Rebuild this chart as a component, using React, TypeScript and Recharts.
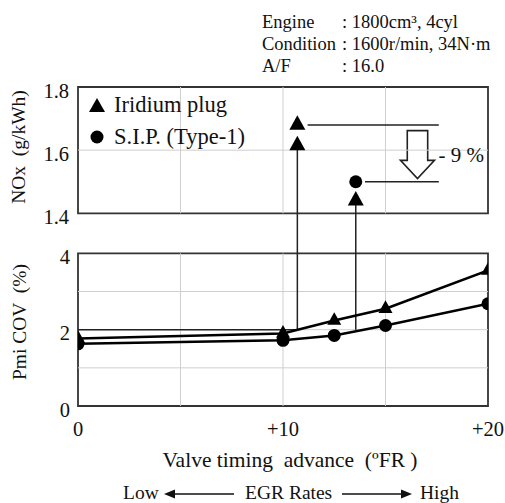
import React from "react";
import { ComposedChart, Line, Scatter, XAxis, YAxis, ReferenceLine, ReferenceArea, Legend } from "recharts";

const FONT = '"Liberation Serif", "DejaVu Serif", serif';

// bottom panel: Pmi COV vs valve timing advance
const timing = [0, 10, 12.5, 15, 20];
const covIridium = [1.77, 1.9, 2.24, 2.55, 3.55];
const covSip = [1.63, 1.72, 1.85, 2.11, 2.68];

// top panel: NOx points
const noxIridiumX = [10.7, 10.7, 13.55];
const noxIridium = [1.68, 1.615, 1.44];
const noxSipX = [13.55];
const noxSip = [1.5];

const covLimit = 2;
const noxBefore = 1.68;
const noxAfter = 1.5;

const xTicks = [0, 10, 20];
const xTickLabels = ["0", "+10", "+20"];
const noxTicks = [1.4, 1.6, 1.8];
const covTicks = [0, 2, 4];

const specLabels = ["Engine", "Condition", "A/F"];
const specValues = [": 1800cm\u00b3, 4cyl", ": 1600r/min, 34N\u00b7m", ": 16.0"];

// both y axes share the full plot height, each panel uses a part of it
const noxDomain = [0.79, 1.8];
const covDomain = [0, 8.36];
const noxToCov = (v: number) =>
  ((v - noxDomain[0]) / (noxDomain[1] - noxDomain[0])) * (covDomain[1] - covDomain[0]) + covDomain[0];

const covIridiumData = timing.map((x, i) => ({ x, y: covIridium[i] }));
const covSipData = timing.map((x, i) => ({ x, y: covSip[i] }));
const noxIridiumData = noxIridiumX.map((x, i) => ({ x, y: noxIridium[i] }));
const noxSipData = noxSipX.map((x, i) => ({ x, y: noxSip[i] }));
const connectors = [
  [{ x: noxIridiumX[1], y: covLimit }, { x: noxIridiumX[1], y: noxToCov(noxIridium[1]) }],
  [{ x: noxIridiumX[2], y: covLimit }, { x: noxIridiumX[2], y: noxToCov(noxIridium[2]) }],
];

const Tri = ({ cx, cy, w }: { cx: number; cy: number; w: number }) => {
  const h = w * 0.9;
  return <polygon points={`${cx},${cy - (2 * h) / 3} ${cx + w / 2},${cy + h / 3} ${cx - w / 2},${cy + h / 3}`} fill="#000" />;
};

const HollowArrow = (p: any) => {
  const { x, y, width, height } = p;
  const cx = x + width / 2;
  const sh = width * 0.3;
  const hy = y + height * 0.62;
  const pts = [
    [cx - sh, y], [cx + sh, y], [cx + sh, hy], [x + width, hy], [cx, y + height], [x, hy], [cx - sh, hy],
  ].map((q) => q.join(",")).join(" ");
  return <polygon points={pts} fill="#fff" stroke="#222" strokeWidth={1.6} />;
};

const LegendBox = (props: any) => {
  const items = (props.payload || []).filter((e: any) => e.type !== "none");
  return (
    <div style={{ fontFamily: FONT, fontSize: 22.5, color: "#111" }}>
      {items.map((e: any) => (
        <div key={e.value} style={{ display: "flex", alignItems: "center", height: 32, whiteSpace: "nowrap" }}>
          <svg width={18} height={18} style={{ marginRight: 8 }}>
            {e.type === "triangle" ? <polygon points="9,2 17,16 1,16" fill="#000" /> : <circle cx={9} cy={9} r={6.5} fill="#000" />}
          </svg>
          <span>{e.value}</span>
        </div>
      ))}
    </div>
  );
};

const grid = "#cfcfcf";
const frame = "#333";
const tickStyle = { fontSize: 20.5, fill: "#111", fontFamily: FONT, dy: 3.5 };

export default function App() {
  return (
    <div style={{ position: "absolute", left: 0, top: 0, width: 505, height: 503, background: "#fff", fontFamily: FONT, color: "#111" }}>
      {specLabels.map((l, i) => (
        <React.Fragment key={l}>
          <div style={{ position: "absolute", left: 262, top: 10.5 + i * 22, fontSize: 18.5, lineHeight: "22px" }}>{l}</div>
          <div style={{ position: "absolute", left: 342, top: 10.5 + i * 22, fontSize: 18.5, lineHeight: "22px", whiteSpace: "nowrap" }}>{specValues[i]}</div>
        </React.Fragment>
      ))}

      <ComposedChart width={505} height={503} margin={{ top: 87, right: 17, bottom: 67, left: 76 }}>
        <XAxis
          dataKey="x"
          type="number"
          domain={[0, 20]}
          allowDataOverflow
          ticks={xTicks}
          tickFormatter={(v: number) => xTickLabels[xTicks.indexOf(v)]}
          axisLine={false}
          tickLine={false}
          tickMargin={9}
          height={30}
          tick={{ fontSize: 20.5, fill: "#111", fontFamily: FONT }}
        />
        <YAxis yAxisId="nox" dataKey="y" type="number" domain={noxDomain} allowDataOverflow ticks={noxTicks}
          tickFormatter={(v: number) => v.toFixed(1)} width={1} axisLine={false} tickLine={false} tick={tickStyle} />
        <YAxis yAxisId="cov" dataKey="y" type="number" domain={covDomain} allowDataOverflow ticks={covTicks}
          width={1} axisLine={false} tickLine={false} tick={tickStyle} />

        {/* top panel grid and frame */}
        <ReferenceLine yAxisId="nox" y={1.6} stroke={grid} />
        {[5, 10, 15].map((g) => (
          <ReferenceLine key={"tn" + g} yAxisId="nox" segment={[{ x: g, y: 1.4 }, { x: g, y: 1.8 }]} stroke={grid} />
        ))}
        <ReferenceArea yAxisId="nox" x1={0} x2={20} y1={1.4} y2={1.8} fill="none" stroke={frame} strokeWidth={1.8} />

        {/* bottom panel grid and frame */}
        {[1, 2, 3].map((g) => (
          <ReferenceLine key={"hc" + g} yAxisId="cov" y={g} stroke={grid} />
        ))}
        {[5, 10, 15].map((g) => (
          <ReferenceLine key={"tc" + g} yAxisId="cov" segment={[{ x: g, y: 0 }, { x: g, y: 4 }]} stroke={grid} />
        ))}
        <ReferenceArea yAxisId="cov" x1={0} x2={20} y1={0} y2={4} fill="none" stroke={frame} strokeWidth={1.8} />

        {/* annotations */}
        <ReferenceLine yAxisId="cov" segment={[{ x: 0, y: covLimit }, { x: noxIridiumX[1], y: covLimit }]} stroke="#222" strokeWidth={1.5} />
        <ReferenceLine yAxisId="nox" segment={[{ x: 11.2, y: noxBefore }, { x: 17.6, y: noxBefore }]} stroke="#222" strokeWidth={1.5} />
        <ReferenceLine yAxisId="nox" segment={[{ x: 14.0, y: noxAfter }, { x: 17.6, y: noxAfter }]} stroke="#222" strokeWidth={1.5} />
        <ReferenceArea yAxisId="nox" x1={15.73} x2={17.39} y1={1.51} y2={1.662} shape={HollowArrow}
          label={{ value: "- 9 %", position: "right", offset: 4, fontSize: 21, fill: "#111", fontFamily: FONT }} />

        {connectors.map((c, i) => (
          <Line key={"cn" + i} yAxisId="cov" data={c} dataKey="y" stroke="#222" strokeWidth={1.5} dot={false}
            legendType="none" isAnimationActive={false} />
        ))}

        <Line yAxisId="cov" data={covIridiumData} dataKey="y" name="Iridium plug" stroke="#000" strokeWidth={2.5}
          legendType="none" isAnimationActive={false}
          dot={(p: any) => <Tri key={"d" + p.index} cx={p.cx} cy={p.cy} w={14} />} />
        <Line yAxisId="cov" data={covSipData} dataKey="y" name="S.I.P. (Type-1)" stroke="#000" strokeWidth={2.5}
          legendType="none" isAnimationActive={false}
          dot={(p: any) => <circle key={"c" + p.index} cx={p.cx} cy={p.cy} r={6.5} fill="#000" />} />

        <Scatter yAxisId="nox" data={noxIridiumData} name="Iridium plug" fill="#000" legendType="triangle"
          isAnimationActive={false} shape={(p: any) => <Tri cx={p.cx} cy={p.cy} w={16} />} />
        <Scatter yAxisId="nox" data={noxSipData} name="S.I.P. (Type-1)" fill="#000" legendType="circle"
          isAnimationActive={false} shape={(p: any) => <circle cx={p.cx} cy={p.cy} r={6.5} fill="#000" />} />

        <Legend layout="vertical" align="center" verticalAlign="middle" content={LegendBox}
          wrapperStyle={{ position: "absolute", left: 88, top: 89, width: 200 }} />
      </ComposedChart>

      <div style={{ position: "absolute", left: 19, top: 147, transform: "translate(-50%,-50%) rotate(-90deg)", fontSize: 19.5, whiteSpace: "pre" }}>
        {"NOx  (g/kWh)"}
      </div>
      <div style={{ position: "absolute", left: 20, top: 322, transform: "translate(-50%,-50%) rotate(-90deg)", fontSize: 19.5, whiteSpace: "pre" }}>
        {"Pmi COV  (%)"}
      </div>

      <div style={{ position: "absolute", left: 290, top: 460, transform: "translate(-50%,-50%)", fontSize: 21.5, whiteSpace: "pre" }}>
        {"Valve timing  advance  (\u00baFR )"}
      </div>

      <div style={{ position: "absolute", left: 123, top: 483, fontSize: 19.5, lineHeight: "19px" }}>Low</div>
      <svg style={{ position: "absolute", left: 164, top: 488 }} width={70} height={12}>
        <line x1={8} y1={6} x2={70} y2={6} stroke="#111" strokeWidth={1.5} />
        <polygon points="0,6 11,1.5 11,10.5" fill="#111" />
      </svg>
      <div style={{ position: "absolute", left: 245, top: 483, fontSize: 19.5, lineHeight: "19px", whiteSpace: "nowrap" }}>EGR Rates</div>
      <svg style={{ position: "absolute", left: 342, top: 488 }} width={70} height={12}>
        <line x1={0} y1={6} x2={62} y2={6} stroke="#111" strokeWidth={1.5} />
        <polygon points="70,6 59,1.5 59,10.5" fill="#111" />
      </svg>
      <div style={{ position: "absolute", left: 420, top: 483, fontSize: 19.5, lineHeight: "19px" }}>High</div>
    </div>
  );
}
